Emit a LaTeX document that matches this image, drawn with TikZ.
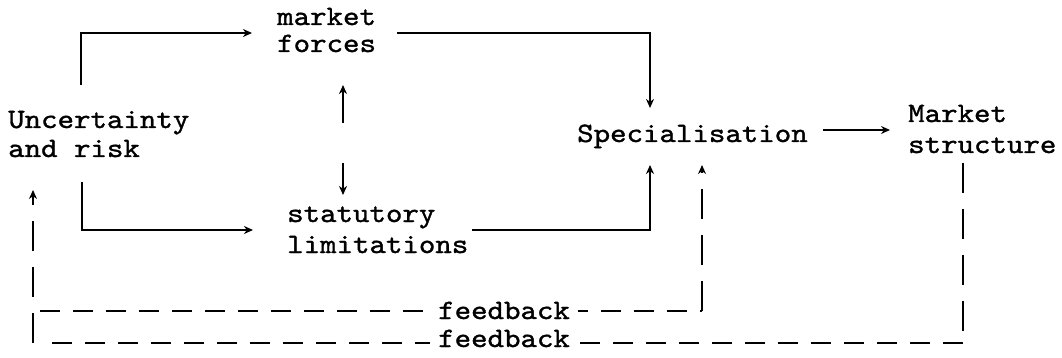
\documentclass[tikz,border=0pt]{standalone}
\usepackage{fontspec}
\setmonofont[FakeStretch=1.12,FakeBold=1.2]{lmmono10-regular.otf}
\usetikzlibrary{arrows.meta}
\begin{document}
\begin{tikzpicture}[x=1pt,y=-1pt,
  lbl/.style={inner sep=0pt, anchor=base west, align=left, font=\ttfamily\bfseries\fontsize{28}{27}\selectfont},
  fbl/.style={lbl, fill=white, inner xsep=8pt, inner ysep=0.5pt},
  conn/.style={line width=1.6pt},
  arr/.style={conn, -{Stealth[length=9pt,width=8pt]}},
  dashH/.style={line width=1.8pt, dash pattern=on 20pt off 13pt},
  dashV/.style={line width=1.4pt, dash pattern=on 30pt off 16pt},
  dashVarr/.style={dashV, -{Stealth[length=9pt,width=8pt]}}
]
\useasboundingbox (0,0) rectangle (1062,358);
% text nodes (anchor = baseline of last line)
\node[lbl] (mf) at (277,52) {market\\forces};
\node[lbl] (ur) at (8,157) {Uncertainty\\[2pt]and risk};
\node[lbl] (sl) at (287,253) {statutory\\[4pt]limitations};
\node[lbl] (sp) at (577,142) {Specialisation};
\node[lbl] (ms) at (908,153) {Market\\[4pt]structure};
% corner / end coordinates
\coordinate (urA) at (81,85);
\coordinate (mfA) at (252,33);
\coordinate (urB) at (82,182);
\coordinate (slB) at (253,230);
\coordinate (mfD) at (343,123);
\coordinate (mfDtip) at (343,85);
\coordinate (slU) at (343,163);
\coordinate (slUtip) at (343,195);
\coordinate (mfE) at (397,33);
\coordinate (spT) at (650,108);
\coordinate (slE) at (472,230);
\coordinate (spB) at (650,165);
\coordinate (spR) at (823,130);
\coordinate (msL) at (890,130);
\coordinate (msB) at (963,163);
\coordinate (lowC) at (963,343);
\coordinate (lowL) at (40,343);
\coordinate (leftB) at (33,343);
\coordinate (urTip) at (33,190);
\coordinate (upL) at (40,311);
\coordinate (upC) at (702,311);
\coordinate (spF) at (702,165);
% solid connectors
\draw[arr] (urA) |- (mfA);
\draw[arr] (urB) |- (slB);
\draw[arr] (mfD) -- (mfDtip);
\draw[arr] (slU) -- (slUtip);
\draw[arr] (mfE) -| (spT);
\draw[arr] (slE) -| (spB);
\draw[arr] (spR) -- (msL);
% feedback loops
\draw[dashV] (msB) -- (lowC);
\draw[dashH] (lowC) -- (lowL);
\draw[dashVarr] (leftB) -- (urTip);
\draw[dashH] (upL) -- (upC);
\draw[dashVarr] (upC) -- (spF);
\node[fbl] (fb1) at (430,319) {feedback};
\node[fbl] (fb2) at (430,347) {feedback};
\end{tikzpicture}
\end{document}
